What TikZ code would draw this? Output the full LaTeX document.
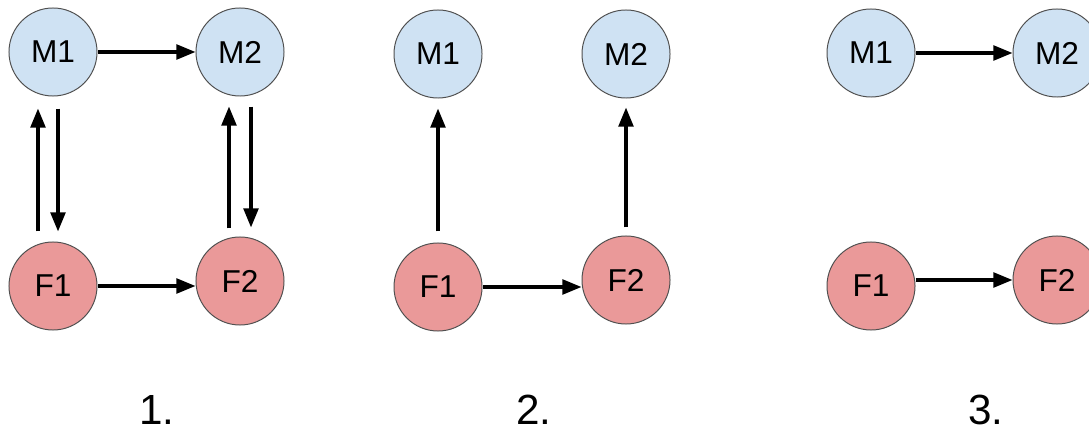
\documentclass[tikz,border=0pt]{standalone}
\usepackage{fontspec}
\setmainfont{Liberation Sans}
\usetikzlibrary{arrows.meta}
\definecolor{mblue}{HTML}{CFE2F3}
\definecolor{fred}{HTML}{EA9999}
\definecolor{rim}{HTML}{505050}

\begin{document}
\begin{tikzpicture}[x=0.025cm, y=-0.025cm,
  main/.style = {draw=rim, line width=0.7pt, circle, minimum size=2.2cm, inner sep=0pt, font=\fontsize{22.5}{27}\selectfont},
  male/.style = {main, fill=mblue},
  female/.style = {main, fill=fred},
  arr/.style = {-{Triangle[length=0.48cm, width=0.37cm]}, line width=2.3pt},
  num/.style = {inner sep=0pt, font=\fontsize{30}{36}\selectfont}]
\useasboundingbox (0,0) rectangle (1089,431);
% 1.
\node[male] (1) at (53,52) {M1};
\node[male] (2) at (240,52) {M2};
\node[female] (3) at (53,286) {F1};
\node[female] (4) at (240,281) {F2};
\draw[arr] (1) -- (2);
\draw[arr] (3.east) -- (3.east -| 4.west);
\draw[arr, shorten <=0.25cm, shorten >=0.3cm] ([xshift=-0.375cm]3.north) -- ([xshift=-0.375cm]1.south);
\draw[arr, shorten <=0.3cm, shorten >=0.25cm] ([xshift=0.125cm]1.south) -- ([xshift=0.125cm]3.north);
\draw[arr, shorten <=0.2cm, shorten >=0.25cm] ([xshift=-0.275cm]4.north) -- ([xshift=-0.275cm]2.south);
\draw[arr, shorten <=0.25cm, shorten >=0.225cm] ([xshift=0.275cm]2.south) -- ([xshift=0.275cm]4.north);
% 2.
\node[male] (5) at (438,54) {M1};
\node[male] (6) at (626,54) {M2};
\node[female] (7) at (438,287) {F1};
\node[female] (8) at (626,280) {F2};
\draw[arr, shorten <=0.275cm, shorten >=0.25cm] (7) -- (5);
\draw[arr, shorten <=0.2cm, shorten >=0.225cm] (8) -- (6);
\draw[arr] (7.east) -- (7.east -| 8.west);
% 3.
\node[male] (9) at (871,53) {M1};
\node[male] (10) at (1057,53) {M2};
\node[female] (11) at (871,286) {F1};
\node[female] (12) at (1057,280) {F2};
\draw[arr] (9) -- (10);
\draw[arr] (11.east |- 12.west) -- (12.west);
% numbers
\node[num] (n1) at (157,410) {1.};
\node[num] (n2) at (534,410) {2.};
\node[num] (n3) at (986,410) {3.};
\end{tikzpicture}
\end{document}
